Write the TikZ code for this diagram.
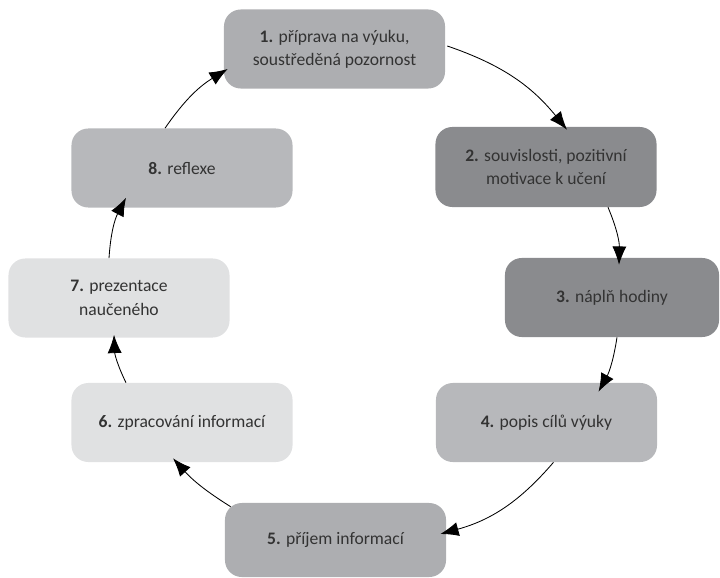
\documentclass[tikz,border=0pt]{standalone}
\usepackage{fontspec}
\setmainfont{Carlito}
\usepackage{xcolor}
\usepackage{tikz}
\usetikzlibrary{positioning,arrows.meta}

\definecolor{midgray}{HTML}{ADAEB1}
\definecolor{darkgray}{HTML}{8A8B8E}
\definecolor{softgray}{HTML}{B7B8BB}
\definecolor{palegray}{HTML}{E0E1E2}
\definecolor{textgray}{HTML}{333333}

\begin{document}
\begin{tikzpicture}[x=0.025cm,y=-0.025cm,
						stage/.style={rounded corners=0.42cm, minimum width=5.525cm, minimum height=1.975cm,
							inner sep=0pt, align=center, text=textgray,
							font=\fontsize{12.5}{16.6}\selectfont},
						edge/.style={line width=0.6pt, -{Latex[length=13pt,width=10pt]}}
						]
						\useasboundingbox (0,0) rectangle (720,577);
						
						\node[stage, fill=midgray]  (n1) at (334.5,49)  {\textbf{1.} příprava na výuku,\\soustředěná pozornost};
						\node[stage, fill=darkgray, minimum height=2cm] (n2) at (546,167) {\textbf{2.} souvislosti, pozitivní\\motivace k učení};
						\node[stage, fill=darkgray, minimum width=5.35cm] (n3) at (612,297.5) {\textbf{3.} náplň hodiny};
						\node[stage, fill=softgray] (n4) at (546.5,422.5) {\textbf{4.} popis cílů výuky};
						\node[stage, fill=midgray, minimum height=1.85cm] (n5) at (335.5,540) {\textbf{5.} příjem informací};
						\node[stage, fill=palegray] (n6) at (182,422.5) {\textbf{6.} zpracování informací};
						\node[stage, fill=palegray] (n7) at (119,298)   {\textbf{7.} prezentace\\naučeného};
						\node[stage, fill=softgray] (n8) at (182,168)   {\textbf{8.} reflexe};
						
						\draw[edge] ([shift={(2,-3)}]n1.east) to[bend left=16] ([shift={(21,3)}]n2.north);
						\draw[edge] ([shift={(62,0)}]n2.south) to[bend left=12] ([shift={(7,7)}]n3.north);
						\draw[edge] ([shift={(5,0)}]n3.south) to[bend left=10] ([shift={(52,9)}]n4.north);
						\draw[edge] ([shift={(7,0)}]n4.south) to[bend left=17] ([shift={(-6,-6)}]n5.east);
						\draw[edge] ([shift={(6,4)}]n5.north west) to[bend left=8] ([shift={(-9,-4)}]n6.south);
						\draw[edge] ([shift={(-56,0)}]n6.north) to[bend left=12] ([shift={(-5,-3)}]n7.south);
						\draw[edge] ([shift={(-10,0)}]n7.north) to[bend left=12] ([shift={(-56,-10)}]n8.south);
						\draw[edge] ([shift={(-17,0)}]n8.north) to[bend left=12] ([shift={(4,20)}]n1.west);
					\end{tikzpicture}
\end{document}
